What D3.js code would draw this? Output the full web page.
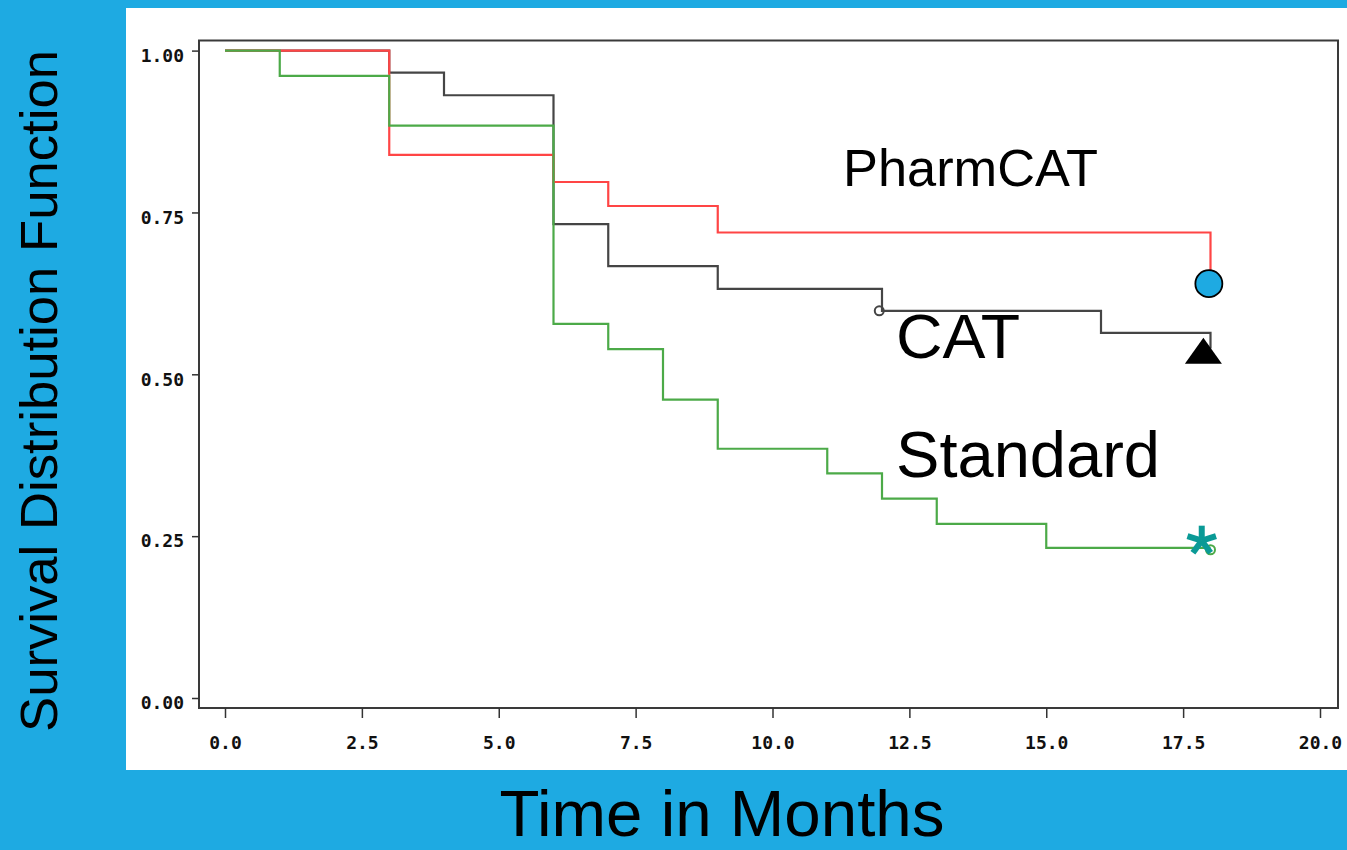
<!DOCTYPE html>
<html><head><meta charset="utf-8">
<script src="https://cdn.jsdelivr.net/npm/d3@7"></script>
<style>html,body{margin:0;padding:0;background:#1eaae2;overflow:hidden}</style>
</head><body>
<script>
// ---- data ----
const xTicks = [0, 2.5, 5, 7.5, 10, 12.5, 15, 17.5, 20];
const xTickLabels = ["0.0","2.5","5.0","7.5","10.0","12.5","15.0","17.5","20.0"];
const yTicks = [0, 0.25, 0.5, 0.75, 1];
const yTickLabels = ["0.00","0.25","0.50","0.75","1.00"];

const pharmTimes = [0, 3, 6, 7, 9, 18];
const pharmSurv  = [1.00, 0.839, 0.797, 0.760, 0.719, 0.640];
const catTimes = [0, 3, 4, 6, 7, 9, 12, 16, 18];
const catSurv  = [1.00, 0.966, 0.931, 0.732, 0.667, 0.632, 0.598, 0.564, 0.54];
const stdTimes = [0, 1, 3, 6, 7, 8, 9, 11, 12, 13, 15, 18];
const stdSurv  = [1.00, 0.961, 0.884, 0.578, 0.539, 0.461, 0.385, 0.347, 0.308, 0.269, 0.232, 0.232];

const catCensorT = [11.95], catCensorS = [0.598];
const stdCensorT = [18], stdCensorS = [0.229];

const groupLabels = ["PharmCAT", "CAT", "Standard"];

// ---- layout ----
const W = 1347, H = 850;
const svg = d3.select("body").append("svg").attr("width", W).attr("height", H);
svg.append("rect").attr("width", W).attr("height", H).attr("fill", "#1eaae2");
svg.append("rect").attr("x", 126).attr("y", 8).attr("width", W - 126).attr("height", 762).attr("fill", "#ffffff");

const x = d3.scaleLinear().domain([0, 20]).range([225, 1320]);
const y = d3.scaleLinear().domain([0, 1]).range([698, 50.6]);
const frame = {l: 199, t: 40.5, r: 1338, b: 708};

// frame
svg.append("rect").attr("x", frame.l).attr("y", frame.t)
  .attr("width", frame.r - frame.l).attr("height", frame.b - frame.t)
  .attr("fill", "none").attr("stroke", "#3a3a3a").attr("stroke-width", 2);

// y axis
const yAxis = d3.axisLeft(y).tickValues(yTicks).tickSize(7).tickPadding(8)
  .tickFormat((d, i) => yTickLabels[i]);
const gy = svg.append("g").attr("transform", `translate(${frame.l},0)`).call(yAxis);
gy.select(".domain").remove();
gy.selectAll(".tick line").attr("stroke", "#333").attr("stroke-width", 1.5);
gy.selectAll(".tick text").attr("font-family", "'DejaVu Sans Mono', monospace")
  .attr("font-weight", "bold").attr("font-size", 18).attr("fill", "#111").attr("dy", "0.6em");

// x axis
const xAxis = d3.axisBottom(x).tickValues(xTicks).tickSize(10).tickPadding(18)
  .tickFormat((d, i) => xTickLabels[i]);
const gx = svg.append("g").attr("transform", `translate(0,${frame.b})`).call(xAxis);
gx.select(".domain").remove();
gx.selectAll(".tick line").attr("stroke", "#333").attr("stroke-width", 1.5);
gx.selectAll(".tick text").attr("font-family", "'DejaVu Sans Mono', monospace")
  .attr("font-weight", "bold").attr("font-size", 18).attr("fill", "#111");

// step curves
const line = d3.line().x(d => x(d[0])).y(d => y(d[1])).curve(d3.curveStepAfter);
const series = [
  {t: catTimes, s: catSurv, c: "#454545"},
  {t: pharmTimes, s: pharmSurv, c: "#ff4545"},
  {t: stdTimes, s: stdSurv, c: "#4caa48"}
];
series.forEach(sr => {
  svg.append("path").datum(sr.t.map((t, i) => [t, sr.s[i]]))
    .attr("d", line).attr("fill", "none").attr("stroke", sr.c).attr("stroke-width", 2.2);
});

// censor marks
catCensorT.forEach((t, i) => svg.append("circle").attr("cx", x(t)).attr("cy", y(catCensorS[i]))
  .attr("r", 4.5).attr("fill", "none").attr("stroke", "#454545").attr("stroke-width", 2));
stdCensorT.forEach((t, i) => svg.append("circle").attr("cx", x(t)).attr("cy", y(stdCensorS[i]))
  .attr("r", 4.5).attr("fill", "none").attr("stroke", "#4caa48").attr("stroke-width", 2));

// end markers
const circT = 17.97, circS = 0.64;
const triT = 17.87, triS = 0.535;
const astT = 17.84, astS = 0.243;

svg.append("circle").attr("cx", x(circT)).attr("cy", y(circS)).attr("r", 13.5)
  .attr("fill", "#1eaae2").attr("stroke", "#000").attr("stroke-width", 1.8);

const tx = x(triT), ty = y(triS);
svg.append("path").attr("d", `M${tx},${ty - 14}L${tx + 18.5},${ty + 12}L${tx - 18.5},${ty + 12}Z`)
  .attr("fill", "#000");

const ax = x(astT), ay = y(astS);
[-90, -18, 54, 126, 198].forEach(a => {
  const r = a * Math.PI / 180;
  svg.append("line").attr("x1", ax).attr("y1", ay)
    .attr("x2", ax + 15 * Math.cos(r)).attr("y2", ay + 15 * Math.sin(r))
    .attr("stroke", "#0a9a96").attr("stroke-width", 6).attr("stroke-linecap", "butt");
});

// group labels
const lab = (txt, px, py, fs, len) => svg.append("text").attr("x", px).attr("y", py)
  .attr("font-family", "'Liberation Sans', Arial, sans-serif").attr("font-size", fs)
  .attr("fill", "#000").attr("textLength", len).attr("lengthAdjust", "spacingAndGlyphs").text(txt);
lab(groupLabels[0], 843, 186, 52, 255);
lab(groupLabels[1], 896, 358, 63, 124);
lab(groupLabels[2], 896, 477, 64, 264);

// axis titles
svg.append("text").attr("x", 722).attr("y", 836).attr("text-anchor", "middle")
  .attr("font-family", "'Liberation Sans', Arial, sans-serif").attr("font-size", 64)
  .attr("fill", "#000").attr("textLength", 445).attr("lengthAdjust", "spacingAndGlyphs")
  .text("Time in Months");
svg.append("text").attr("transform", "translate(57,391) rotate(-90)").attr("text-anchor", "middle")
  .attr("font-family", "'Liberation Sans', Arial, sans-serif").attr("font-size", 52)
  .attr("fill", "#000").attr("textLength", 682).attr("lengthAdjust", "spacingAndGlyphs")
  .text("Survival Distribution Function");
</script>
</body></html>
